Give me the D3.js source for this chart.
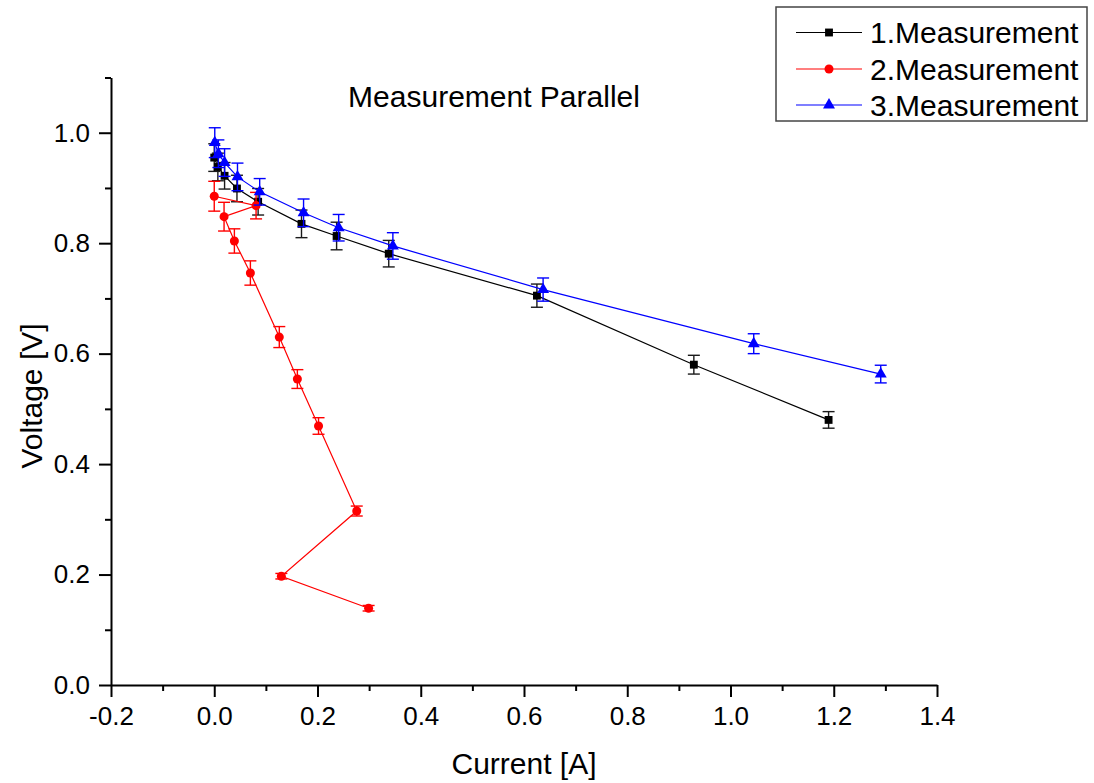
<!DOCTYPE html>
<html>
<head>
<meta charset="utf-8">
<script src="https://cdn.jsdelivr.net/npm/d3@7"></script>
<style>
  html, body { margin: 0; padding: 0; background: #fff; }
  svg { display: block; font-family: "Liberation Sans", Arial, sans-serif; }
</style>
</head>
<body>
<svg id="chart" width="1094" height="783"></svg>
<script>
// ---- data ----
const seriesNames = ["1.Measurement", "2.Measurement", "3.Measurement"];

const current1 = [0.000, 0.007, 0.020, 0.044, 0.085, 0.169, 0.237, 0.338, 0.625, 0.929, 1.190];
const voltage1 = [0.955, 0.938, 0.922, 0.899, 0.875, 0.835, 0.813, 0.781, 0.705, 0.580, 0.480];
const error1   = [0.025, 0.025, 0.024, 0.024, 0.024, 0.025, 0.025, 0.024, 0.021, 0.017, 0.015];

const current2 = [0.000, 0.081, 0.019, 0.039, 0.070, 0.126, 0.161, 0.202, 0.276, 0.130, 0.299];
const voltage2 = [0.885, 0.868, 0.848, 0.804, 0.746, 0.630, 0.554, 0.469, 0.315, 0.197, 0.139];
const error2   = [0.027, 0.024, 0.026, 0.022, 0.022, 0.019, 0.017, 0.015, 0.009, 0.005, 0.005];

const current3 = [0.001, 0.008, 0.020, 0.045, 0.088, 0.173, 0.241, 0.346, 0.637, 1.045, 1.291];
const voltage3 = [0.982, 0.962, 0.946, 0.920, 0.893, 0.855, 0.828, 0.795, 0.716, 0.618, 0.563];
const error3   = [0.027, 0.025, 0.025, 0.025, 0.024, 0.025, 0.024, 0.024, 0.021, 0.018, 0.016];

const xMajorTicks = [-0.2, 0.0, 0.2, 0.4, 0.6, 0.8, 1.0, 1.2, 1.4];
const xMinorTicks = [-0.1, 0.1, 0.3, 0.5, 0.7, 0.9, 1.1, 1.3];
const yMajorTicks = [0.0, 0.2, 0.4, 0.6, 0.8, 1.0];
const yMinorTicks = [0.1, 0.3, 0.5, 0.7, 0.9, 1.1];

const titleText = "Measurement Parallel";
const xTitle = "Current [A]";
const yTitle = "Voltage [V]";

// ---- build ----
const svg = d3.select("#chart");
const x = d3.scaleLinear().domain([-0.2, 1.4]).range([111, 937]);
const y = d3.scaleLinear().domain([0, 1.1]).range([685, 77.5]);

const fmt = d => d.toFixed(1);

const series = [
  {name: seriesNames[0], xs: current1, ys: voltage1, es: error1, color: "#000000", errColor: "#1a1a1a", marker: "square"},
  {name: seriesNames[1], xs: current2, ys: voltage2, es: error2, color: "#ff0000", errColor: "#ff0000", marker: "circle"},
  {name: seriesNames[2], xs: current3, ys: voltage3, es: error3, color: "#0000ff", errColor: "#0000ff", marker: "triangle"}
];

function markerPath(type) {
  if (type === "square") return d3.symbol(d3.symbolSquare, 62)();
  if (type === "circle") return d3.symbol(d3.symbolCircle, 64)();
  return d3.symbol(d3.symbolTriangle, 62)();
}

// series
const capHalf = 6;
series.forEach(s => {
  const pts = s.xs.map((v, i) => ({x: v, y: s.ys[i], e: s.es[i]}));
  const g = svg.append("g");
  g.append("path")
    .datum(pts)
    .attr("fill", "none")
    .attr("stroke", s.color)
    .attr("stroke-width", 1.2)
    .attr("d", d3.line().x(d => x(d.x)).y(d => y(d.y)));
  const eb = g.selectAll(".eb").data(pts).enter().append("g")
    .attr("stroke", s.errColor).attr("stroke-width", 1.4);
  eb.append("line")
    .attr("x1", d => x(d.x)).attr("x2", d => x(d.x))
    .attr("y1", d => y(d.y + d.e)).attr("y2", d => y(d.y - d.e));
  eb.append("line")
    .attr("x1", d => x(d.x) - capHalf).attr("x2", d => x(d.x) + capHalf)
    .attr("y1", d => y(d.y + d.e)).attr("y2", d => y(d.y + d.e));
  eb.append("line")
    .attr("x1", d => x(d.x) - capHalf).attr("x2", d => x(d.x) + capHalf)
    .attr("y1", d => y(d.y - d.e)).attr("y2", d => y(d.y - d.e));
  g.selectAll(".m").data(pts).enter().append("path")
    .attr("d", markerPath(s.marker))
    .attr("transform", d => `translate(${x(d.x)},${y(d.y)})`)
    .attr("fill", s.color);
});

// axes
const xAxisG = svg.append("g").attr("transform", "translate(0,685)");
xAxisG.call(d3.axisBottom(x).tickValues(xMajorTicks).tickFormat(fmt).tickSize(12).tickSizeOuter(0).tickPadding(10));
xAxisG.append("g").call(d3.axisBottom(x).tickValues(xMinorTicks).tickFormat("").tickSize(6).tickSizeOuter(0))
  .select(".domain").remove();

const yAxisG = svg.append("g").attr("transform", "translate(111,0)");
yAxisG.call(d3.axisLeft(y).tickValues(yMajorTicks).tickFormat(fmt).tickSize(12).tickSizeOuter(0).tickPadding(9));
yAxisG.append("g").call(d3.axisLeft(y).tickValues(yMinorTicks).tickFormat("").tickSize(6).tickSizeOuter(0))
  .select(".domain").remove();

svg.selectAll(".domain, .tick line").attr("stroke", "#000").attr("stroke-width", 2);
svg.selectAll(".tick text").attr("font-size", 26).attr("fill", "#000")
  .attr("font-family", "'Liberation Sans', Arial, sans-serif");

// titles
svg.append("text").attr("x", 494).attr("y", 107).attr("text-anchor", "middle")
  .attr("font-size", 30).text(titleText);
svg.append("text").attr("x", 524).attr("y", 774).attr("text-anchor", "middle")
  .attr("font-size", 30).text(xTitle);
svg.append("text").attr("transform", "translate(42,396) rotate(-90)").attr("text-anchor", "middle")
  .attr("font-size", 30).text(yTitle);

// legend
const lg = svg.append("g");
lg.append("rect").attr("x", 776).attr("y", 7).attr("width", 311).attr("height", 114)
  .attr("fill", "#fff").attr("stroke", "#444").attr("stroke-width", 1.5);
const rowY = [32.5, 69, 105];
series.forEach((s, i) => {
  lg.append("line").attr("x1", 796).attr("x2", 862).attr("y1", rowY[i]).attr("y2", rowY[i])
    .attr("stroke", s.color).attr("stroke-width", 1.2);
  lg.append("path").attr("d", markerPath(s.marker))
    .attr("transform", `translate(829,${rowY[i]})`).attr("fill", s.color);
  lg.append("text").attr("x", 870).attr("y", rowY[i] + 10.5)
    .attr("font-size", 30).text(s.name);
});
</script>
</body>
</html>
